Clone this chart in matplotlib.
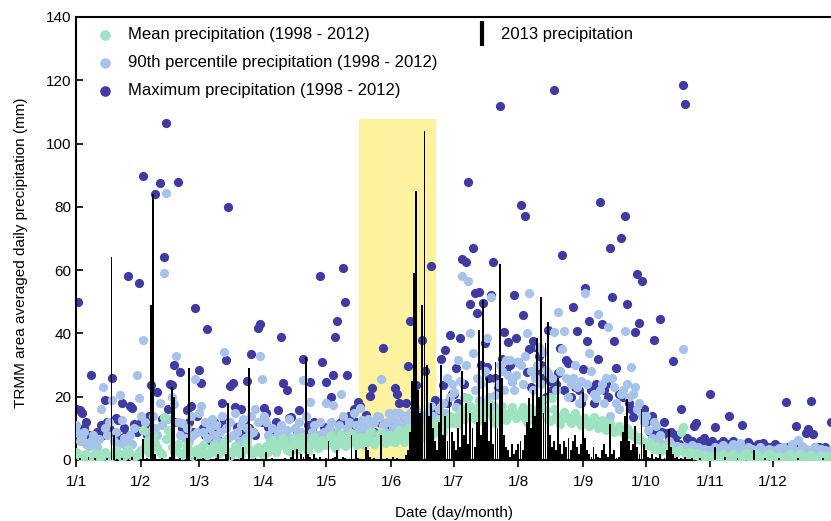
import matplotlib
matplotlib.use("Agg")
import matplotlib.pyplot as plt
import numpy as np
from matplotlib.lines import Line2D

plt.rcParams['font.family'] = ['Liberation Sans', 'DejaVu Sans']

# daily values (mm), one list per month
mean_by_month = [
    [2.5,1.8,1.2,0.8,1.5,2.0,1.0,0.7,1.3,2.2,1.6,0.9,1.1,1.9,2.4,1.4,0.8,1.2,2.0,3.1,2.2,1.5,0.9,1.3,2.6,3.4,2.0,1.2,0.8,1.7,2.5],
    [3.2,9.5,4.5,6.0,2.1,3.5,8.0,5.5,4.0,2.5,1.8,13.6,6.5,9.5,7.0,4.2,2.6,3.8,5.0,2.2,1.5,2.8,4.6,3.0,2.0,1.2,2.5,3.4],
    [2.0,3.5,4.8,2.6,1.5,2.2,3.8,5.2,3.0,1.8,2.4,4.0,5.6,3.2,2.0,1.4,2.8,4.4,3.6,2.2,1.6,3.0,4.6,5.8,3.4,2.4,1.8,3.2,4.2,2.8,2.0],
    [3.0,4.5,2.6,5.0,6.4,3.8,2.4,4.2,5.6,7.0,4.6,3.2,2.8,5.2,6.8,4.0,3.0,5.4,7.2,5.0,3.6,2.8,4.8,6.0,7.4,5.2,3.8,4.4,6.2,5.0],
    [4.6,6.0,7.8,5.4,3.8,5.0,6.6,8.2,6.0,4.4,5.2,7.0,8.4,6.2,4.8,5.6,7.4,6.0,4.6,5.8,7.6,8.8,6.4,5.0,6.2,7.8,9.0,6.8,5.4,6.6,8.0],
    [6.0,7.4,5.6,8.2,9.6,7.0,5.8,8.0,10.2,8.4,6.6,7.8,9.4,11.0,8.8,7.2,9.0,10.6,12.0,9.8,8.2,10.0,11.6,13.0,10.4,9.0,11.2,12.8,14.0,11.6],
    [12.0,13.6,11.4,14.8,16.2,13.0,15.4,19.6,17.0,14.2,12.8,15.6,17.4,13.8,12.4,14.6,16.8,18.2,15.0,13.2,11.8,14.0,15.8,17.2,14.4,12.6,13.8,15.2,16.6,14.8,13.4],
    [14.0,15.6,16.8,13.2,12.0,14.8,16.4,15.0,13.6,12.4,14.2,17.6,19.0,15.8,13.0,12.2,19.6,16.0,13.8,12.6,11.4,13.4,15.2,14.0,12.8,11.6,13.6,15.0,13.2,12.0,11.0],
    [12.4,13.2,11.8,10.6,12.0,13.6,11.4,10.2,11.0,12.6,10.8,9.6,10.4,11.8,9.8,8.8,9.6,10.8,9.2,8.4,9.0,10.2,8.6,7.8,8.4,7.2,6.6,7.4,6.0,5.6],
    [5.2,4.6,5.8,4.0,3.6,4.4,3.2,2.8,3.6,4.2,3.0,2.6,3.4,2.4,2.0,2.8,3.0,9.0,10.4,2.2,1.8,2.6,2.0,1.6,2.2,1.4,1.8,1.2,1.6,1.0,1.4],
    [1.2,0.8,1.6,1.0,0.6,1.4,2.0,1.2,0.8,0.6,1.0,1.8,1.4,0.8,0.5,1.0,1.6,2.2,1.4,0.8,0.6,1.2,1.8,1.0,0.7,0.5,0.9,1.5,2.0,1.2],
    [0.8,0.6,1.0,1.4,0.8,0.5,0.7,1.2,1.8,1.0,0.6,0.8,1.4,2.0,1.2,0.7,0.5,0.9,1.6,1.1,0.7,0.5,0.8,1.3,0.9,0.6,0.8,1.2,1.6,1.0,0.7],
]

p90_by_month = [
    [11,8.5,6,7.5,9,5,4.5,6,8,5.5,4,6.5,16,23,10,8,12,19,6,9,5,20.5,12.6,7,4.5,6,8,5,10,27,19.6],
    [14,38,12,9,7,6,14,10,8,18,11,59,84.5,13,9,20,17.7,33,12,8,11.7,7,10,6,14,8,25.6,9],
    [15,17,9,12,7,10,13,8,11,6,9,14,34,10,7,12,8,15,9,6,11,13,7,10,8,14,9,16,12,33,25.6],
    [14,12,8,6,10,7,5,9,11,6,8,9.5,13,7,5,10,8,12,9,25.3,14,7,18.4,9,11,6,8,12,7,9],
    [18,10,12,17.4,9,8,11,21,14,7,10,12,8,15,11,9,16.4,12.6,10.4,8,13,10,9,12,14,13.6,25.6,11,9,12,15],
    [13,10,15,12,15,11,14,9,12,15,13,11,16,14,12,10,13,15,12,17,14,11,13,16,12,18,15,26,20,24],
    [21.5,16.8,31.6,25,58,20,30,56.6,40,33.8,22,26,19,24,18,28,38.6,20,51.6,17.4,20.5,24,30,28,22,31.6,27,31.6,25,22,27],
    [31,30,24,33,40,52.8,28,22,26,30,35.7,24,34,28.5,27.5,20,26,40.5,22,46.8,28,35,40.8,26,20,24,26,30,23,18,25],
    [20,52.8,24,33.8,28,21,19.6,46,22,24,18,26,42,14,26,23,18,16,21,22,40.8,24,20,29.4,21,23,16,18,14,12],
    [14,9.5,4.7,7,12,10.7,6,8,5,4,3.5,6,5,4,3.2,4.5,3,4,35,4,3,2.6,4.7,3.5,2.8,4,3,2.5,3.6,2.2,3],
    [3,2.5,4,3.5,2,3,4.7,2.8,3.5,2.2,4,5,3,2.5,5.4,3.2,2,3,4,2.6,3.5,2.2,3,2.8,4,2.5,2,3,3.6,2.4],
    [2.5,3,2,3.8,2.6,4,3,2.2,3.5,5,3,2.4,6.3,3.2,4.5,2.8,3.6,2.2,3,2.5,4,3,2.2,3.4,2.6,3,2,2.8,3.2,2.4,3],
]

max_by_month = [
    [16,50,15.8,14.8,10,12,8,27,6.3,5,9,7,11,8,19,12,10,26,9,13.3,12.6,7,18,10,8,58,17,16.4,11.4,9,56],
    [12,89.6,11.4,8,14,23.7,9,84,21.5,87.6,13,64,106.5,16,24,23.7,30,12,88,27.8,10,8,15.8,12,17,9,48,14],
    [28.4,24.3,10,8,41.4,6.3,7,12,9,6.3,10,18,12.6,31.6,80,23.4,24.3,16.8,10.4,9,16,12,8,25,10,33.5,9,8,41.7,43,12],
    [16.4,14.8,10.4,10,7,8,12,15.8,39,24.3,8,22,13.3,13.6,6,5.4,9,15.8,7,32,8.5,11,24.6,9.5,12,7,8,58,31,10.4],
    [24.6,9.8,20,27,39,44,11.4,12,60.7,50,26.8,14,10,16,12,18.4,17,9,8,14.2,6,20.2,22.8,9,13,12,8,35.4,11,10,9],
    [12,8,22.8,21,18,10,14,18,29.7,44,12,16,23.7,15,11,38,28,13.6,8.2,61.4,16.4,19,14,12,32,23.7,34.8,18,39.5,21],
    [21,29,18,38.5,63.5,24,62.6,88,49.3,67,52.8,46.4,53,30,49.6,37,29.4,26,52,62.6,26,23,112,32,40.4,28,37.3,30,25,52,38.5],
    [31,80.6,45.8,77,27.8,35,23,37.6,35.7,28,33,30,26,20,41,25,22,117,24,27.5,35.4,64.8,22,31.6,30.7,20,48.4,23,40.8,22,18],
    [28.8,54.4,37.6,44,22,18,24,32,81.5,43,22,24,20,67,51.6,37.6,29,21,70,20,77,49.3,18,16,13.6,40.5,58.8,43.3,56.6,16],
    [12,12.6,9,14,38,10,8,44.6,9,12,8.5,7,9,31.3,6,8,5,16,118.6,112.5,7,5,6,10.7,11.7,5,6,4,7,5,4],
    [21,6,10.4,4,5,3,6,4,5,14,4,6,3,5,4,11,3,4,5.7,4.7,3,4,3,5,4,5.4,3,4,3,4],
    [3,5,3,4,3,2.5,18.3,4,3,2.5,4,10.7,5.4,3,4,3,8.5,9.8,18.6,8.2,4,3,4,2.5,3,4,3,2.5,12,3,4],
]

obs2013_by_month = [
    [0,0,0.5,0,0,0,1,0,0,0.5,0,0,0,0,0,0.5,0,64,8,0,0,0,0.5,0,0,0,0,1,0,0,0],
    [0,6.6,0,0.5,0,49,84,2,0,0,0.5,0,0,0,1,23,20,0,0,0.5,0,0,7,29,0,0,1,0],
    [0,0,0.5,0,0,0,0,0,0.5,2,0,0,0,2,18,1,0,0,0,0,0.5,4,0,0,29,0,0,0.5,0,0,0],
    [0,2.5,0,0,0.5,0,0,0,0,0,0.5,0,0,1,3,0,3.5,0,2,1,32.5,2,1,0,2,0.5,0,1,0,0],
    [0.5,6,0,0.5,1,3,0,0,1,0.5,0,0,8,0,3,0.5,0,0,0,4,3,1,0,0.5,0,0,8,0,0,0.5,0],
    [0,1,0,0.5,0,0,0,1.5,3,9,25,59,85,22,15,49,104,30,14,18,10,6,3,12,30,8,14,6,20,9],
    [6,3,10,4,28,8,18,5,15,10,4,12,41,8,50.6,12,26,6,18,5,31,10,62,26,8,4,3,1,5,2,3],
    [5,6,3,8,12,19.6,10,22,14,38.5,20,51.6,15,37,43.6,8,4,6,3,26,5,2,6,4,7,3,6,8,4,2,5],
    [21.5,7,3,2,1,4,2,1,0.5,3,5,2,1,11.4,2,3,0.5,1,6,9,14,19.3,6,3,5,10.7,4,2,16,5],
    [3,1,0.5,2,0,1,0.5,2,0,0.5,3,9.8,4,2,0.5,1,0,0.5,0,1,0,0,0.5,0,0,0,0.5,0,0,0,0],
    [0,0,4,0,0,0,0,1,0,0,0,0,0,0.5,0,0,0,0,0,0,0,3,0,0,0,0,0.5,0,0,0],
    [0,0,0,0.5,0,0,0,0,0,0,0,0,0.5,0,0,0,0,0,0,0,0,0,0,0,0.5,0,0,0,0,0,0],
]

month_labels = ['1/1', '1/2', '1/3', '1/4', '1/5', '1/6', '1/7', '1/8', '1/9', '1/10', '1/11', '1/12']
month_lengths = [31, 28, 31, 30, 31, 30, 31, 31, 30, 31, 30, 31]

# wet period shaded in yellow (day of year, mm)
band_start, band_end, band_top = 135.6, 172.5, 107.7

mean_mm = np.concatenate(mean_by_month)
p90_mm = np.concatenate(p90_by_month)
max_mm = np.concatenate(max_by_month)
obs_mm = np.concatenate(obs2013_by_month)
days = np.arange(len(mean_mm))
month_starts = np.concatenate([[0], np.cumsum(month_lengths)[:-1]])

fig = plt.figure(figsize=(8.31, 5.21), dpi=100)
ax = fig.add_axes([0.0915, 0.1171, 0.9085, 0.8503])

ax.fill_between([band_start, band_end], 0, band_top, color='#fcf2a0', lw=0, zorder=0)

c_mean, c_p90, c_max = '#9de3bf', '#a8c3ea', '#3f3ba2'
h_max = ax.scatter(days, max_mm, s=44, color=c_max, lw=0, zorder=2,
                   label='Maximum precipitation (1998 - 2012)')
h_p90 = ax.scatter(days, p90_mm, s=44, color=c_p90, lw=0, zorder=3,
                   label='90th percentile precipitation (1998 - 2012)')
h_mean = ax.scatter(days, mean_mm, s=44, color=c_mean, lw=0, zorder=4,
                    label='Mean precipitation (1998 - 2012)')
ax.bar(days, obs_mm, width=0.9, color='black', lw=0, zorder=5)

ax.set_xlim(0, 361.8)
ax.set_ylim(0, 140)
ax.set_xticks(month_starts)
ax.set_xticklabels(month_labels)
ax.set_yticks(np.arange(0, 141, 20))
ax.tick_params(axis='x', direction='out', length=5, width=1.2, labelsize=11, pad=6)
ax.tick_params(axis='y', direction='in', length=5, width=1.2, labelsize=11)
for side in ['left', 'bottom', 'top']:
    ax.spines[side].set_linewidth(1.5)
ax.spines['right'].set_visible(False)

ax.set_xlabel('Date (day/month)', fontsize=11, labelpad=12)
ax.set_ylabel('TRMM area averaged daily precipitation (mm)', fontsize=11)
ax.yaxis.set_label_coords(-0.063, 0.467)

leg1 = ax.legend(handles=[h_mean, h_p90, h_max], loc='upper left', bbox_to_anchor=(-0.004, 1.011),
                 frameon=False, fontsize=12, handletextpad=0.4, labelspacing=0.78,
                 scatterpoints=1, markerscale=1.15)
ax.add_artist(leg1)
h_obs = Line2D([], [], color='black', marker='|', linestyle='None', markersize=18, markeredgewidth=3)
ax.legend(handles=[h_obs], labels=['2013 precipitation'], loc='upper left',
          bbox_to_anchor=(0.496, 1.011), frameon=False, fontsize=12, handletextpad=0.15)

fig.savefig('out.png', dpi=100)
